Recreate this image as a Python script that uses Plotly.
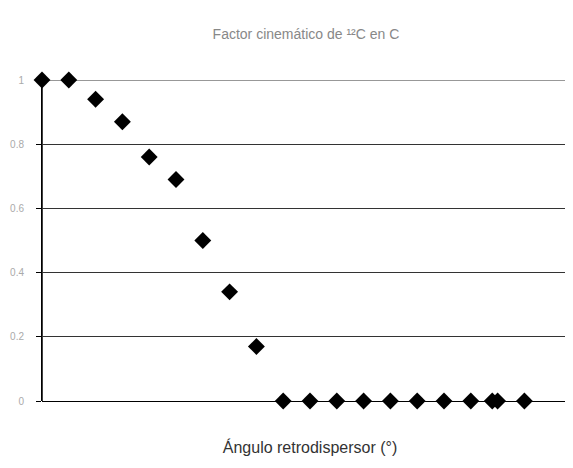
import plotly.graph_objects as go

angles = [0, 10, 20, 30, 40, 50, 60, 70, 80, 90, 100, 110, 120, 130, 140, 150, 160, 168, 170, 180]
kfactor = [1.0, 1.0, 0.94, 0.87, 0.76, 0.69, 0.50, 0.34, 0.17, 0, 0, 0, 0, 0, 0, 0, 0, 0, 0, 0]
y_ticks = [0, 0.2, 0.4, 0.6, 0.8, 1]
y_ticklabels = ["0", "0.2", "0.4", "0.6", "0.8", "1"]

fig = go.Figure()
fig.add_trace(go.Scatter(
    x=angles, y=kfactor, mode="markers",
    marker=dict(symbol="diamond", size=13, color="black"),
    showlegend=False, cliponaxis=False,
))
# top gridline (at the last tick) drawn explicitly since it sits on the plot edge
fig.add_shape(type="line", xref="x domain", yref="y", x0=-0.01, x1=1,
              y0=y_ticks[-1], y1=y_ticks[-1], line=dict(color="#333", width=1), layer="below")
# vertical value-axis line
fig.add_shape(type="line", xref="x domain", yref="y domain", x0=0, x1=0,
              y0=0, y1=1, line=dict(color="black", width=1.5), layer="below")
fig.update_layout(
    width=573, height=468,
    margin=dict(l=34, r=3, t=72, b=75),
    paper_bgcolor="white", plot_bgcolor="white",
    font=dict(family="Liberation Sans, Arial, sans-serif", color="#222"),
    title=dict(text="Factor cinemático de ¹²C en C", x=0.52, xanchor="center",
               y=0.945, yanchor="middle", font=dict(size=14, color="#888")),
)
fig.update_xaxes(
    range=[0, 200], showgrid=False, zeroline=False, showticklabels=False,
    showline=False, ticks="", automargin=False,
    title=dict(text="Ángulo retrodispersor (°)", font=dict(size=16, color="#333"), standoff=40),
)
fig.update_yaxes(
    range=[0, 1.0], tickvals=y_ticks, ticktext=y_ticklabels,
    showgrid=True, gridcolor="#333", gridwidth=1,
    zeroline=True, zerolinecolor="black", zerolinewidth=1,
    showline=True, linecolor="black", linewidth=1,
    ticks="outside", ticklen=5, tickcolor="black",
    ticklabelstandoff=10, automargin=False,
    tickfont=dict(size=10, color="#aaa"),
)
fig.write_html("out.html")
